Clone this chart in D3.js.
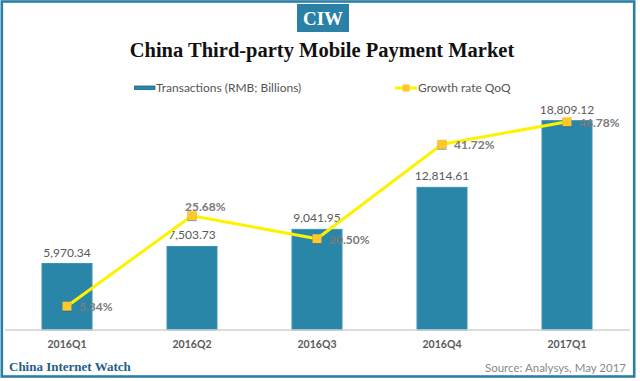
<!DOCTYPE html>
<html><head><meta charset="utf-8">
<script src="https://cdn.jsdelivr.net/npm/d3@7"></script>
<style>html,body{margin:0;padding:0;background:#fff;}svg{display:block;}</style>
</head><body>
<script>
const quarters = ["2016Q1","2016Q2","2016Q3","2016Q4","2017Q1"];
const transactions = [5970.34, 7503.73, 9041.95, 12814.61, 18809.12];
const growth = [5.34, 25.68, 20.50, 41.72, 46.78];
const growthLabelSide = ["right","top","right","right","right"];
const barDomain = [0, 20000];
const growthDomain = [0, 50];
const titleText = "China Third-party Mobile Payment Market";
const legendLabels = ["Transactions (RMB; Billions)", "Growth rate QoQ"];

const W = 640, H = 381;
const teal = "#2a86a8";
const svg = d3.select("body").append("svg").attr("width", W).attr("height", H);
const sans = "Lato, 'Open Sans', sans-serif";
const serif = "'Liberation Serif', 'DejaVu Serif', serif";

// frame
svg.append("rect").attr("x", 1.8).attr("y", 1.5).attr("width", 632.4).attr("height", 375)
  .attr("fill", "#fff").attr("stroke", "#2a7fa6").attr("stroke-width", 2.6);

// logo
svg.append("rect").attr("x", 297).attr("y", 4).attr("width", 52).attr("height", 28).attr("fill", "#2b80a8");
svg.append("text").attr("x", 323).attr("y", 25).attr("text-anchor", "middle")
  .attr("font-family", serif).attr("font-weight", "bold").attr("font-size", 19).attr("fill", "#fff").text("CIW");

// title
svg.append("text").attr("x", 322).attr("y", 57).attr("text-anchor", "middle")
  .attr("font-family", serif).attr("font-weight", "bold").attr("font-size", 20.5).attr("fill", "#111").text(titleText);

// legend
svg.append("rect").attr("x", 134.5).attr("y", 86).attr("width", 20.5).attr("height", 3.5)
  .attr("fill", teal).attr("stroke", "#1d6382").attr("stroke-width", 0.8);
svg.append("text").attr("x", 156).attr("y", 92.3).attr("font-family", sans).attr("font-size", 12)
  .attr("fill", "#555").text(legendLabels[0]);
svg.append("line").attr("x1", 395).attr("x2", 417).attr("y1", 88).attr("y2", 88)
  .attr("stroke", "#fff200").attr("stroke-width", 3);
svg.append("rect").attr("x", 402.5).attr("y", 84.5).attr("width", 7).attr("height", 7).attr("fill", "#ffc72a");
svg.append("text").attr("x", 418).attr("y", 92.3).attr("font-family", sans).attr("font-size", 12)
  .attr("fill", "#555").text(legendLabels[1]);

// scales
const x = d3.scaleBand().domain(quarters).range([4.5, 629.5]).paddingInner(0.6).paddingOuter(0.3);
const yB = d3.scaleLinear().domain(barDomain).range([330, 107.4]);
const yG = d3.scaleLinear().domain(growthDomain).range([330, 107.4]);

// bars
svg.selectAll("rect.bar").data(quarters).join("rect").attr("class", "bar")
  .attr("x", d => x(d)).attr("width", x.bandwidth())
  .attr("y", (d, i) => yB(transactions[i])).attr("height", (d, i) => yB(0) - yB(transactions[i]))
  .attr("fill", teal).attr("stroke", "#3a93b4").attr("stroke-width", 1);

// axis
const xAxis = svg.append("g").attr("transform", `translate(0,${yB(0)})`)
  .call(d3.axisBottom(x).tickSize(0).tickPadding(11));
xAxis.select(".domain").attr("stroke", "#d0d0d0").attr("stroke-width", 1.5).attr("d", "M5,0H630");
xAxis.selectAll("text").attr("font-family", sans).attr("font-size", 10.5).attr("font-weight", "bold").attr("fill", "#595959");

// bar labels
const fmt = d3.format(",.2f");
svg.selectAll("text.bl").data(quarters).join("text").attr("class", "bl")
  .attr("x", d => x(d) + x.bandwidth() / 2).attr("y", (d, i) => yB(transactions[i]) - 7)
  .attr("text-anchor", "middle").attr("font-family", sans).attr("font-size", 12)
  .attr("fill", "#595959").text((d, i) => fmt(transactions[i]));

// line
const cx = d => x(d) + x.bandwidth() / 2;
const line = d3.line().x(d => cx(d)).y((d, i) => yG(growth[i]));
svg.append("path").datum(quarters).attr("d", line).attr("fill", "none")
  .attr("stroke", "#fff200").attr("stroke-width", 3).attr("stroke-linejoin", "round");

// markers (shadow + square)
svg.selectAll("rect.ms").data(quarters).join("rect").attr("class", "ms")
  .attr("x", d => cx(d) - 4.5).attr("y", (d, i) => yG(growth[i]) - 3.5)
  .attr("width", 9).attr("height", 9).attr("fill", "#355a78").attr("opacity", 0.6);
svg.selectAll("rect.mk").data(quarters).join("rect").attr("class", "mk")
  .attr("x", d => cx(d) - 4.5).attr("y", (d, i) => yG(growth[i]) - 4.5)
  .attr("width", 9).attr("height", 9).attr("fill", "#ffc72a");

// growth labels
svg.selectAll("text.gl").data(quarters).join("text").attr("class", "gl")
  .attr("x", (d, i) => growthLabelSide[i] === "top" ? cx(d) - 7 : cx(d) + 12)
  .attr("y", (d, i) => growthLabelSide[i] === "top" ? yG(growth[i]) - 5 : yG(growth[i]) + 5)
  .attr("font-family", sans).attr("font-size", 12).attr("font-weight", "bold")
  .attr("fill", "#7a7a7a").text((d, i) => growth[i].toFixed(2) + "%");

// footer
svg.append("text").attr("x", 9).attr("y", 371).attr("font-family", serif).attr("font-weight", "bold")
  .attr("font-size", 13).attr("fill", "#1f5f88").text("China Internet Watch");
svg.append("text").attr("x", 626).attr("y", 372).attr("text-anchor", "end").attr("font-family", sans)
  .attr("font-size", 11.5).attr("fill", "#8a8a8a").text("Source: Analysys, May 2017");
</script>
</body></html>
